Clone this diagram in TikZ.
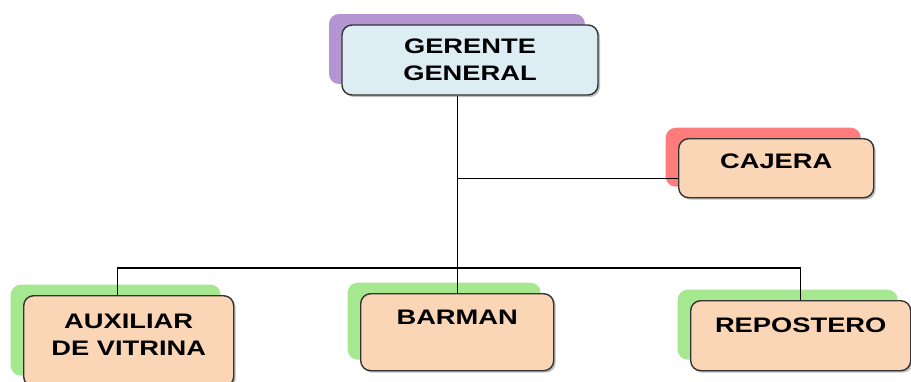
\documentclass[tikz,border=0pt]{standalone}
\usepackage{fontspec}
\usepackage{xcolor}
\usetikzlibrary{shadows, positioning, calc}
\newfontfamily\boxfont{Liberation Sans}[FakeStretch=1.3]

\definecolor{skyfill}{HTML}{DCEEF4}
\definecolor{peachfill}{HTML}{FAD5B6}
\definecolor{lilac}{HTML}{B594D2}
\definecolor{rosy}{HTML}{FF7C7C}
\definecolor{leaf}{HTML}{A5E88F}
\definecolor{edge}{HTML}{333333}

\tikzset{
  box/.style={draw=edge, line width=1.4pt, rounded corners=10pt,
    inner xsep=0pt, inner ysep=15pt, text height=15pt, anchor=north west,
    font=\boxfont\bfseries\fontsize{21}{27}\selectfont, align=center,
    general shadow={fill=#1, shadow xshift=-13pt, shadow yshift=11pt},
    drop shadow={fill=black, opacity=.25, shadow xshift=2pt, shadow yshift=-2pt}},
  line/.style={draw=black, line width=1.2pt}
}

\begin{document}
\begin{tikzpicture}[x=1pt, y=-1pt]
      \useasboundingbox (0,0) rectangle (911,381);
      \clip (0,0) rectangle (911,381);

      \node[box=lilac, fill=skyfill, minimum width=256pt, minimum height=70pt,
        inner ysep=0pt, text height=, anchor=center] (ger) at (470,60)
        {GERENTE\\GENERAL};

      \node[box=rosy, fill=peachfill, minimum width=195pt, text depth=14pt]
        (caj) at (678,138) {CAJERA};

      \node[box=leaf, fill=peachfill, minimum width=210pt, text height=45pt,
        text depth=16pt] (aux) at (23,295) {AUXILIAR\\DE VITRINA};
      \node[box=leaf, fill=peachfill, minimum width=193pt, text height=16pt,
        text depth=31pt] (barman) at (360,293) {BARMAN};
      \node[box=leaf, fill=peachfill, minimum width=220pt, text height=17pt,
        text depth=23pt] (rep) at (690,300) {REPOSTERO};

      \coordinate (bus) at (456,268);
      \coordinate (cajin) at ([yshift=-10pt]caj.west);

      % gerente down to barman
      \draw[line] (barman.north) -- (barman.north |- ger.south);
      % branch to cajera
      \draw[line] (barman.north |- cajin) -- (cajin);
      % auxiliar to repostero
      \draw[line] ([xshift=-11pt]aux.north) |- (bus) -| (rep.north);
\end{tikzpicture}
\end{document}
